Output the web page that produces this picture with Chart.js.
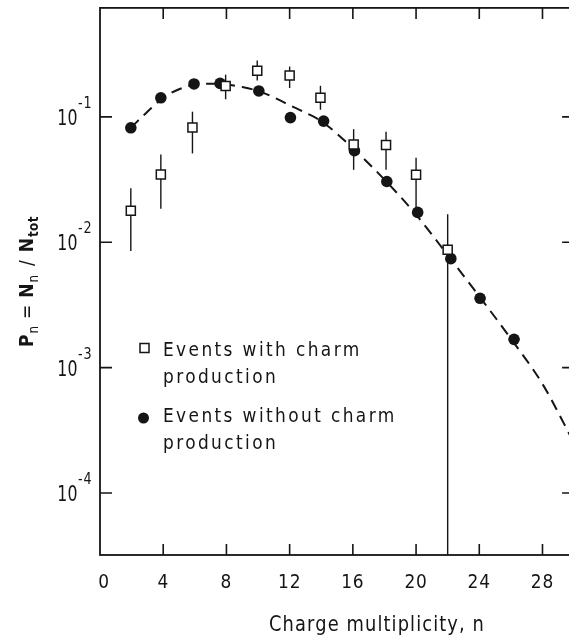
<!DOCTYPE html>
<html>
<head>
<meta charset="utf-8">
<script src="https://cdn.jsdelivr.net/npm/chart.js@4.4.1/dist/chart.umd.min.js"></script>
<style>
  html, body { margin: 0; padding: 0; background: #fff; overflow: hidden; }
  canvas { display: block; }
</style>
</head>
<body>
<canvas id="chart" width="582" height="642"></canvas>
<script>
// Multiplicity distributions - events with / without charm production
const nTicks = [4, 8, 12, 16, 20, 24, 28];
const nLabels = ['0', '4', '8', '12', '16', '20', '24', '28'];
const decades = [-1, -2, -3, -4];

// open squares, with error bars
const charmN  = [1.95, 3.85, 5.85, 7.95, 9.95, 12.0, 13.95, 16.05, 18.1, 20.0, 22.0];
const charmP  = [0.0178, 0.0347, 0.0822, 0.176, 0.233, 0.214, 0.142, 0.0603, 0.0596, 0.0346, 0.0087];
const charmHi = [0.027, 0.0502, 0.110, 0.217, 0.282, 0.252, 0.177, 0.0798, 0.076, 0.0472, 0.0167];
const charmLo = [0.0085, 0.0185, 0.0511, 0.138, 0.195, 0.170, 0.114, 0.0378, 0.0378, 0.0182, 0];

// filled circles
const noCharmN = [1.95, 3.85, 5.95, 7.6, 10.05, 12.05, 14.15, 16.1, 18.15, 20.1, 22.2, 24.05, 26.2];
const noCharmP = [0.0818, 0.142, 0.183, 0.185, 0.161, 0.0987, 0.0925, 0.0537, 0.0305, 0.0173, 0.0074, 0.00357, 0.00168];

// dashed fit curve
const fitN = [1.95, 3, 4, 5, 6, 7, 8, 9, 10, 11, 12, 13, 14, 16, 18, 20, 22, 24, 26, 28, 30];
const fitP = [0.0818, 0.11, 0.142, 0.166, 0.181, 0.184, 0.181, 0.173, 0.161, 0.143, 0.124, 0.108, 0.0925,
              0.0562, 0.0316, 0.0166, 0.0079, 0.0037, 0.0017, 0.00074, 0.00025];

const legendLines = [['Events with charm', 'production'], ['Events without charm', 'production']];
const xTitle = 'Charge multiplicity, n';

const ink = '#151515';
const FONT = '"DejaVu Sans"';

function txt(ctx, str, x, y, size, o = {}) {
  const sx = o.sx || 0.85;
  ctx.save();
  ctx.font = (o.weight || 'normal') + ' ' + size + 'px ' + FONT;
  ctx.letterSpacing = (o.ls || 0) + 'px';
  const w = ctx.measureText(str).width * sx;
  let x0 = x;
  if (o.align === 'center') x0 = x - w / 2;
  if (o.align === 'right') x0 = x - w;
  ctx.translate(x0, y);
  ctx.scale(sx, 1);
  ctx.fillStyle = ink;
  ctx.textAlign = 'left';
  ctx.textBaseline = 'alphabetic';
  ctx.fillText(str, 0, 0);
  ctx.restore();
  return w;
}

const framePlugin = {
  id: 'frame',
  beforeDatasetsDraw(chart) {
    const { ctx, chartArea, scales: { x, y } } = chart;
    ctx.save();
    ctx.strokeStyle = ink;
    ctx.lineWidth = 1.4;
    charmN.forEach((n, i) => {
      const px = x.getPixelForValue(n);
      const top = y.getPixelForValue(charmHi[i]);
      const bot = charmLo[i] > 0 ? y.getPixelForValue(charmLo[i]) : chartArea.bottom;
      ctx.beginPath();
      ctx.moveTo(px, top);
      ctx.lineTo(px, bot);
      ctx.stroke();
    });
    ctx.restore();
  },
  afterDraw(chart) {
    const { ctx, chartArea: a, scales: { x, y } } = chart;
    ctx.save();
    ctx.strokeStyle = ink;
    ctx.lineWidth = 1.8;
    ctx.strokeRect(a.left, a.top, a.right - a.left, a.bottom - a.top);

    // inward ticks
    ctx.lineWidth = 1.6;
    ctx.beginPath();
    nTicks.forEach(v => {
      const px = x.getPixelForValue(v);
      ctx.moveTo(px, a.bottom); ctx.lineTo(px, a.bottom - 11);
      ctx.moveTo(px, a.top); ctx.lineTo(px, a.top + 11);
    });
    decades.forEach(e => {
      const py = y.getPixelForValue(Math.pow(10, e));
      ctx.moveTo(a.left, py); ctx.lineTo(a.left + 12, py);
      ctx.moveTo(a.right, py); ctx.lineTo(a.right - 12, py);
    });
    ctx.stroke();

    // x tick labels
    [0].concat(nTicks).forEach((v, i) => {
      txt(ctx, nLabels[i], x.getPixelForValue(v) + (v === 0 ? 4 : 0), 588, 20, { align: 'center', ls: 1 });
    });
    // y tick labels 10^e
    decades.forEach(e => {
      const py = y.getPixelForValue(Math.pow(10, e));
      txt(ctx, '10', a.left - 22, py + 8, 21, { align: 'right', sx: 0.75, ls: 0.5 });
      txt(ctx, '-' + Math.abs(e), a.left - 22, py - 9, 15, { ls: 1 });
    });

    // x title
    txt(ctx, xTitle, 377, 631, 21, { align: 'center', ls: 1.3 });

    // y title, rotated: P_n = N_n / N_tot
    ctx.save();
    ctx.translate(33, 347);
    ctx.rotate(-Math.PI / 2);
    let u = 0;
    u += txt(ctx, 'P', u, 0, 20, { weight: 'bold' });
    u += txt(ctx, 'n', u + 1, 5, 14) + 8;
    u += txt(ctx, '=', u, 0, 20) + 7;
    u += txt(ctx, 'N', u, 0, 20, { weight: 'bold' });
    u += txt(ctx, 'n', u + 1, 5, 14) + 10;
    u += txt(ctx, '/', u, 0, 20) + 8;
    u += txt(ctx, 'N', u, 0, 20, { weight: 'bold' });
    txt(ctx, 'tot', u + 1, 5, 14, { weight: 'bold', ls: 0.5 });
    ctx.restore();

    // legend
    ctx.lineWidth = 1.5;
    ctx.fillStyle = '#fff';
    ctx.fillRect(140, 343.5, 9, 9);
    ctx.strokeRect(140, 343.5, 9, 9);
    ctx.fillStyle = ink;
    ctx.beginPath();
    ctx.arc(143.5, 418, 5.5, 0, Math.PI * 2);
    ctx.fill();
    const legY = [356, 422];
    legendLines.forEach((lines, k) => {
      lines.forEach((s, j) => txt(ctx, s, 163, legY[k] + j * 27, 20, { ls: 2.8 }));
    });
    ctx.restore();
  }
};

new Chart(document.getElementById('chart'), {
  type: 'scatter',
  data: {
    datasets: [
      {
        label: 'Events with charm production',
        data: charmN.map((n, i) => ({ x: n, y: charmP[i] })),
        pointStyle: 'rect',
        radius: 6.4,
        backgroundColor: '#fff',
        borderColor: ink,
        borderWidth: 1.5,
        order: 1
      },
      {
        label: 'Events without charm production',
        data: noCharmN.map((n, i) => ({ x: n, y: noCharmP[i] })),
        pointStyle: 'circle',
        radius: 5.8,
        backgroundColor: ink,
        borderColor: ink,
        borderWidth: 0,
        order: 2
      },
      {
        type: 'line',
        label: 'fit',
        data: fitN.map((n, i) => ({ x: n, y: fitP[i] })),
        borderColor: ink,
        borderWidth: 2,
        borderDash: [11, 7],
        pointRadius: 0,
        fill: false,
        cubicInterpolationMode: 'monotone',
        order: 3
      }
    ]
  },
  options: {
    responsive: false,
    animation: false,
    layout: { padding: { left: 100, right: 7, top: 4, bottom: 87 } },
    plugins: { legend: { display: false }, tooltip: { enabled: false } },
    scales: {
      x: { type: 'linear', min: 0, max: 30, display: false },
      y: { type: 'logarithmic', min: 3.2e-5, max: 0.74, display: false }
    }
  },
  plugins: [framePlugin]
});
</script>
</body>
</html>
